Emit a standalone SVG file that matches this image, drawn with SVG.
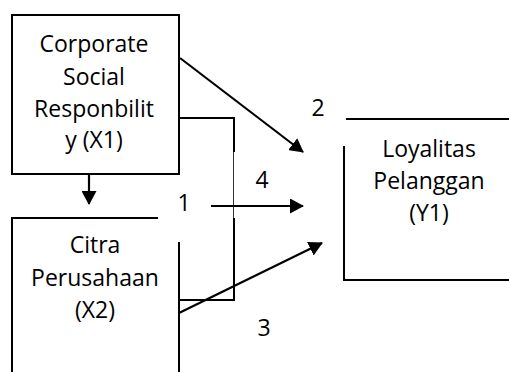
<svg xmlns="http://www.w3.org/2000/svg" width="509" height="372" viewBox="0 0 509 372">
<defs>
<style>
.b{fill:none;stroke:#000;stroke-width:2}
.t{font-family:"Open Sans","Liberation Sans",sans-serif;font-size:23px;fill:#000;text-anchor:middle}
.c{stroke:#000;stroke-width:2.2;fill:none}
</style>
<marker id="ah" viewBox="0 0 14 15" refX="13" refY="7.5" markerWidth="14" markerHeight="15" markerUnits="userSpaceOnUse" orient="auto">
<path d="M0,0 L14,7.5 L0,15 Z" fill="#000"/>
</marker>
</defs>
<rect width="509" height="372" fill="#fff"/>
<g id="x1">
<rect class="b" x="12" y="15" width="167" height="159"/>
<text class="t" x="94" y="52">Corporate</text>
<text class="t" x="94" y="85">Social</text>
<text class="t" x="94" y="117">Responbilit</text>
<text class="t" x="94" y="148">y (X1)</text>
</g>
<g id="x2">
<path class="b" d="M158,218 H12 V372 M179,242 V372"/>
<text class="t" x="95" y="253">Citra</text>
<text class="t" x="95" y="286">Perusahaan</text>
<text class="t" x="95" y="318">(X2)</text>
</g>
<g id="y1">
<path class="b" d="M346,119 H510 M344,146 V280 H510"/>
<text class="t" x="429" y="157">Loyalitas</text>
<text class="t" x="429" y="189">Pelanggan</text>
<text class="t" x="429" y="221">(Y1)</text>
</g>
<g id="connectors">
<path class="b" d="M179,118 H234 V152"/>
<path d="M233.5,152 V218" stroke="#000" stroke-width="0.8" fill="none"/>
<path class="b" d="M234,218 V300 H179"/>
<line class="c" x1="89" y1="174" x2="89" y2="204" marker-end="url(#ah)"/>
<line class="c" x1="180" y1="58" x2="303" y2="152" marker-end="url(#ah)"/>
<line class="c" x1="211" y1="206" x2="303" y2="206" marker-end="url(#ah)"/>
<line class="c" x1="179" y1="313" x2="322" y2="243" marker-end="url(#ah)"/>
</g>
<g id="labels">
<text class="t" x="184" y="211">1</text>
<text class="t" x="318" y="116">2</text>
<text class="t" x="262" y="188">4</text>
<text class="t" x="264" y="336">3</text>
</g>
</svg>
